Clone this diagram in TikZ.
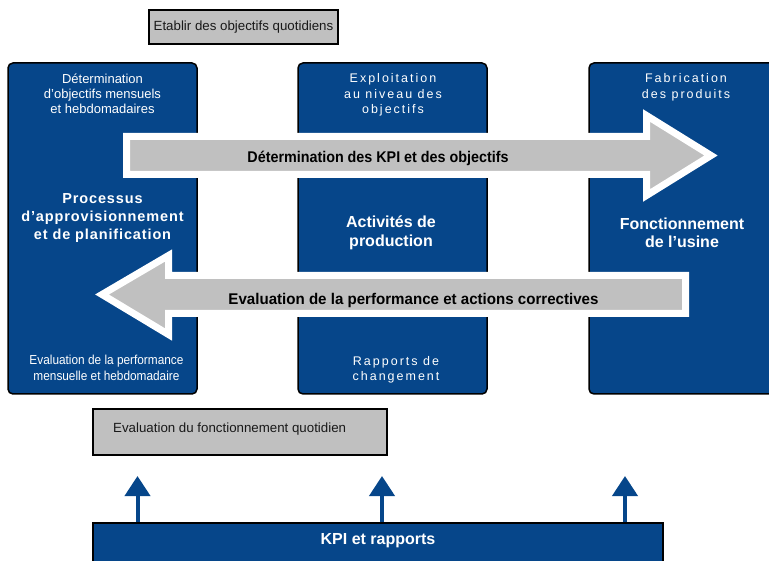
\documentclass[tikz,border=0pt]{standalone}
\usepackage{fontspec}
\usepackage{graphicx}
\setmainfont{Liberation Sans}
\newfontfamily\widefont[LetterSpace=16]{Liberation Sans}
\newfontfamily\widebold[LetterSpace=6]{Liberation Sans}
\usetikzlibrary{arrows.meta}

\definecolor{plantblue}{RGB}{6,70,138}
\definecolor{panelgray}{RGB}{192,192,192}
\definecolor{inktext}{RGB}{25,25,25}

% squeeze a line to a given width, keeping its height
\newcommand\fitw[2]{\resizebox{#1}{\height}{#2}}

\tikzset{
  column/.style={draw=black, line width=1.5pt, fill=plantblue, rounded corners=5pt,
                 minimum width=189pt, minimum height=331pt, inner sep=0pt},
  flowarrow/.style={draw=white, line width=7pt, fill=panelgray, miter limit=10},
  graybox/.style={draw=black, line width=1.5pt, fill=panelgray, inner sep=0pt},
  kpibar/.style={draw=black, line width=1.5pt, fill=plantblue, inner sep=0pt},
  toptext/.style={text=white, align=center, inner sep=0pt,
                  font=\fontsize{13}{15}\selectfont},
  spacedtext/.style={text=white, align=center, inner sep=0pt,
                  font=\widefont\fontsize{12.5}{15.5}\selectfont},
  midtext/.style={text=white, align=center, inner sep=0pt,
                  font=\bfseries\fontsize{16}{18.5}\selectfont},
  arrowlabel/.style={text=black, inner sep=0pt,
                  font=\bfseries\fontsize{15.5}{18}\selectfont},
  boxtext/.style={text=inktext, inner sep=0pt, font=\fontsize{13.3}{16}\selectfont},
  uparrow/.style={draw=plantblue, line width=4pt,
                  -{Triangle[width=25pt,length=20pt]}},
}

\begin{document}
\begin{tikzpicture}[x=1pt,y=-1pt]
\useasboundingbox (0,0) rectangle (769,561);
\clip (0,0) rectangle (769,561);

% daily objectives box
\node[graybox, minimum width=189pt, minimum height=34pt] (daily) at (243.5,27) {};
\node[boxtext] (dailytext) at (243.5,27) {Etablir des objectifs quotidiens};

% the three columns
\node[column] (col1) at (102.5,228.5) {};
\node[column] (col2) at (392.5,228.5) {};
\node[column] (col3) at (683.5,228.5) {};

\node[toptext] (c1top) at (102.5,94) {Détermination\\d’objectifs mensuels\\et hebdomadaires};
\node[spacedtext] (c2top) at (393,95) {Exploitation\\au niveau des\\objectifs};
\node[spacedtext] (c3top) at (686,87.5) {Fabrication\\des produits};

\node[midtext, font=\widebold\bfseries\fontsize{14.5}{18}\selectfont] (c1mid) at (102.5,218)
  {Processus\\d’approvisionnement\\et de planification};
\node[midtext] (c2mid) at (391,233) {Activités de\\production};
\node[midtext] (c3mid) at (682,233) {Fonctionnement\\de l’usine};

\node[toptext, font=\fontsize{13}{16}\selectfont] (c1bot) at (106.5,367.5)
  {\fitw{154pt}{Evaluation de la performance}\\\fitw{146pt}{mensuelle et hebdomadaire}};
\node[spacedtext] (c2bot) at (396,370) {Rapports de\\changement};

% the two flow arrows across the columns
\draw[flowarrow] (126.5,136.5) -- (646.5,136.5) -- (646.5,115.5) -- (711,155.5)
  -- (646.5,195.5) -- (646.5,174.5) -- (126.5,174.5) -- cycle;
\draw[flowarrow] (685.5,275.5) -- (168.5,275.5) -- (168.5,255.5) -- (102,294.5)
  -- (168.5,334.5) -- (168.5,313.5) -- (685.5,313.5) -- cycle;

\node[arrowlabel] (kpiobj) at (378,158)
  {\fitw{261pt}{Détermination des KPI et des objectifs}};
\node[arrowlabel] (perf) at (413.5,300.5)
  {\fitw{370pt}{Evaluation de la performance et actions correctives}};

% daily review box
\node[graybox, minimum width=294pt, minimum height=46pt] (evalbox) at (240,432) {};
\node[boxtext, anchor=west] (evaltext) at (113,429) {Evaluation du fonctionnement quotidien};

% KPI bar and its feeds
\node[kpibar, minimum width=570pt, minimum height=52pt] (kpi) at (378,549) {};
\node[text=white, inner sep=0pt, font=\bfseries\fontsize{16}{18}\selectfont] (kpitext)
  at (378,541) {KPI et rapports};

\coordinate (u1) at (137.5,476);
\coordinate (u2) at (382,476);
\coordinate (u3) at (625,476);
\draw[uparrow] (kpi.north -| u1) -- (u1);
\draw[uparrow] (kpi.north -| u2) -- (u2);
\draw[uparrow] (kpi.north -| u3) -- (u3);
\end{tikzpicture}
\end{document}
